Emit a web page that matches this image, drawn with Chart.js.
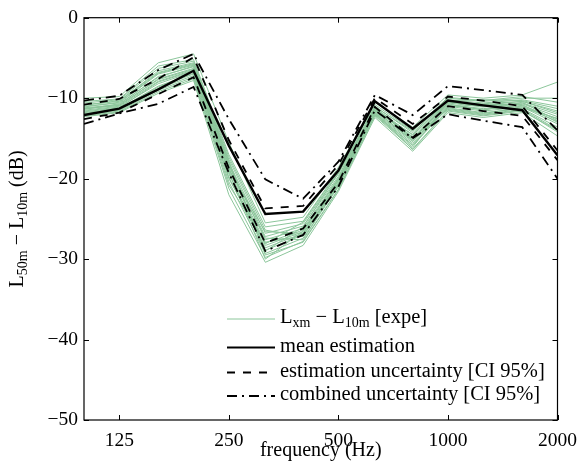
<!DOCTYPE html>
<html>
<head>
<meta charset="utf-8">
<script src="https://cdn.jsdelivr.net/npm/chart.js@4/dist/chart.umd.min.js"></script>
<style>
  html, body { margin: 0; padding: 0; background: #fff; }
  canvas { display: block; }
</style>
</head>
<body>
<canvas id="chart" width="586" height="471"></canvas>
<script>
// third-octave bands (Hz)
const freqs = [100, 125, 160, 200, 250, 315, 400, 500, 630, 800, 1000, 1250, 1600, 2000];
const xTicks = [125, 250, 500, 1000, 2000];
const yTicks = [0, -10, -20, -30, -40, -50];

// model curves (dB)
const meanEst = [-12.1, -11.3, -8.9, -6.6, -15.9, -24.4, -24.1, -19.0, -10.4, -13.8, -10.3, -10.9, -11.5, -17.1];
const estUpper = [-10.8, -10.1, -7.6, -4.9, -15.2, -23.7, -23.4, -18.3, -10.0, -13.2, -9.8, -10.3, -11.0, -16.5];
const estLower = [-12.6, -11.8, -9.5, -7.4, -18.7, -28.0, -26.2, -20.5, -11.1, -14.9, -11.0, -11.6, -12.2, -17.7];
const combUpper = [-10.3, -9.7, -6.5, -4.5, -12.6, -20.1, -22.5, -17.9, -9.6, -12.1, -8.5, -9.0, -9.6, -14.0];
const combLower = [-13.2, -11.9, -10.7, -8.6, -19.3, -29.0, -27.0, -21.0, -11.5, -15.0, -12.0, -12.8, -13.6, -20.0];

// measured curves Lxm - L10m
const expe = [
  [-10.0, -9.8, -5.6, -4.5, -15.5, -25.5, -24.8, -18.6, -10.5, -13.6, -9.6, -10.0, -9.6, -8.0],
  [-10.4, -10.1, -6.0, -5.2, -17.0, -26.0, -25.3, -19.0, -10.8, -14.0, -9.9, -10.3, -9.8, -10.5],
  [-10.8, -10.4, -6.6, -5.6, -17.6, -26.8, -25.6, -19.4, -11.0, -14.3, -10.2, -10.6, -10.2, -11.0],
  [-11.0, -10.6, -7.0, -5.9, -18.0, -27.2, -25.9, -19.7, -11.2, -14.6, -10.4, -10.9, -10.4, -11.6],
  [-11.2, -10.8, -7.3, -6.1, -18.3, -27.6, -26.2, -19.9, -11.3, -14.8, -10.5, -11.0, -10.6, -12.0],
  [-11.3, -10.9, -7.6, -6.3, -18.7, -28.0, -26.4, -20.1, -11.4, -15.0, -10.6, -11.1, -10.7, -12.3],
  [-11.5, -11.0, -7.9, -6.5, -19.0, -28.3, -26.6, -20.3, -11.6, -15.2, -10.8, -11.3, -10.9, -12.6],
  [-11.6, -11.1, -8.2, -6.7, -19.4, -28.6, -26.8, -20.5, -11.7, -15.4, -10.9, -11.4, -11.0, -12.9],
  [-11.8, -11.3, -8.5, -6.9, -19.8, -28.9, -27.0, -20.7, -11.8, -15.6, -11.0, -11.6, -11.1, -13.2],
  [-12.0, -11.5, -8.8, -7.2, -20.4, -29.3, -27.4, -21.0, -12.0, -15.9, -11.2, -11.8, -11.3, -13.6],
  [-12.2, -11.7, -9.2, -7.6, -21.2, -29.8, -27.8, -21.3, -12.2, -16.3, -11.5, -12.1, -11.5, -14.2],
  [-12.3, -11.8, -9.4, -7.8, -22.0, -30.4, -28.3, -21.6, -12.4, -16.6, -11.8, -12.4, -11.8, -14.7],
  [-10.6, -10.2, -6.3, -5.4, -17.3, -26.4, -27.2, -20.2, -11.1, -14.1, -10.0, -10.4, -10.0, -10.0],
  [-11.1, -10.5, -6.9, -5.8, -18.1, -29.0, -26.0, -19.3, -11.5, -14.5, -10.3, -10.2, -10.3, -11.3],
  [-11.4, -10.7, -7.4, -6.0, -18.5, -27.4, -27.6, -20.8, -11.2, -15.1, -10.7, -11.5, -10.5, -12.8],
  [-11.7, -11.2, -8.0, -6.6, -19.2, -30.0, -26.5, -20.0, -11.9, -15.8, -11.1, -10.8, -10.8, -13.0],
  [-11.9, -11.4, -8.6, -7.0, -20.0, -28.1, -25.4, -19.2, -11.5, -15.3, -11.3, -11.9, -11.2, -12.5],
  [-10.9, -10.3, -6.8, -5.7, -17.8, -29.5, -27.9, -21.4, -12.1, -16.1, -10.5, -10.7, -10.4, -11.8],
  [-11.3, -10.9, -7.7, -6.4, -18.9, -26.6, -26.8, -20.6, -11.3, -14.9, -11.4, -12.0, -11.4, -13.9],
  [-12.1, -11.6, -9.0, -7.4, -20.8, -27.9, -27.1, -20.9, -11.8, -16.4, -11.6, -12.2, -11.6, -14.0]
];

const GREEN = 'rgb(140,198,155)';
const SERIF = '"Liberation Serif", "Times New Roman", serif';
const DASH = [8, 8];
const DASHDOT = [10, 5, 2, 5];

function pts(arr){ return freqs.map((f, i) => ({ x: f, y: arr[i] })); }
function minus(v){ return v < 0 ? '\u2212' + Math.abs(v) : String(v); }

const datasets = [];
expe.forEach(row => {
  datasets.push({ data: pts(row), borderColor: GREEN, borderWidth: 1, order: 5 });
});
datasets.push({ data: pts(combUpper), borderColor: '#000', borderWidth: 1.8, borderDash: DASHDOT, order: 2 });
datasets.push({ data: pts(combLower), borderColor: '#000', borderWidth: 1.8, borderDash: DASHDOT, order: 2 });
datasets.push({ data: pts(estUpper), borderColor: '#000', borderWidth: 1.8, borderDash: DASH, order: 2 });
datasets.push({ data: pts(estLower), borderColor: '#000', borderWidth: 1.8, borderDash: DASH, order: 2 });
datasets.push({ data: pts(meanEst), borderColor: '#000', borderWidth: 2.4, order: 1 });

// text runs with subscripts
function runWidth(ctx, parts, big, small){
  let w = 0;
  parts.forEach(p => { ctx.font = (p.sub ? small : big) + 'px ' + SERIF; w += ctx.measureText(p.t).width; });
  return w;
}
function drawRuns(ctx, parts, x, y, big, small){
  parts.forEach(p => {
    ctx.font = (p.sub ? small : big) + 'px ' + SERIF;
    ctx.fillText(p.t, x, p.sub ? y + 5 : y);
    x += ctx.measureText(p.t).width;
  });
}

const decor = {
  id: 'decor',
  afterDraw(chart){
    const ctx = chart.ctx, a = chart.chartArea;
    const xs = chart.scales.x, ys = chart.scales.y;
    ctx.save();
    ctx.strokeStyle = '#000';
    ctx.lineWidth = 1.2;
    ctx.setLineDash([]);
    ctx.strokeRect(a.left, a.top, a.right - a.left, a.bottom - a.top);
    ctx.lineWidth = 1;
    ctx.beginPath();
    xTicks.forEach(v => {
      const px = Math.round(xs.getPixelForValue(v)) + 0.5;
      ctx.moveTo(px, a.bottom); ctx.lineTo(px, a.bottom - 5);
      ctx.moveTo(px, a.top); ctx.lineTo(px, a.top + 5);
    });
    yTicks.forEach(v => {
      const py = Math.round(ys.getPixelForValue(v)) + 0.5;
      ctx.moveTo(a.left, py); ctx.lineTo(a.left + 5, py);
      ctx.moveTo(a.right, py); ctx.lineTo(a.right - 5, py);
    });
    ctx.stroke();

    // y title
    ctx.fillStyle = '#000';
    ctx.textBaseline = 'middle';
    ctx.textAlign = 'left';
    const yParts = [{ t: 'L' }, { t: '50m', sub: true }, { t: ' \u2212 L' }, { t: '10m', sub: true }, { t: ' (dB)' }];
    const w = runWidth(ctx, yParts, 20, 14);
    ctx.translate(18, (a.top + a.bottom) / 2);
    ctx.rotate(-Math.PI / 2);
    drawRuns(ctx, yParts, -w / 2, 0, 20, 14);
    ctx.restore();

    // x title
    ctx.save();
    ctx.fillStyle = '#000';
    ctx.font = '20px ' + SERIF;
    ctx.textAlign = 'center';
    ctx.textBaseline = 'middle';
    ctx.fillText('frequency (Hz)', (a.left + a.right) / 2, 451);

    // legend
    const lx0 = 227, lx1 = 275, tx = 280;
    const rows = [
      { y: 319, color: GREEN, width: 1, dash: [], parts: [{ t: 'L' }, { t: 'xm', sub: true }, { t: ' \u2212 L' }, { t: '10m', sub: true }, { t: ' [expe]' }] },
      { y: 347.5, color: '#000', width: 2.2, dash: [], parts: [{ t: 'mean estimation' }] },
      { y: 372.5, color: '#000', width: 1.8, dash: DASH, parts: [{ t: 'estimation uncertainty [CI 95%]' }] },
      { y: 396, color: '#000', width: 1.8, dash: DASHDOT, parts: [{ t: 'combined uncertainty [CI 95%]' }] }
    ];
    ctx.textAlign = 'left';
    rows.forEach(r => {
      ctx.strokeStyle = r.color;
      ctx.lineWidth = r.width;
      ctx.setLineDash(r.dash);
      ctx.beginPath();
      ctx.moveTo(lx0, r.y); ctx.lineTo(lx1, r.y);
      ctx.stroke();
      ctx.fillStyle = '#000';
      drawRuns(ctx, r.parts, tx, r.y - 1, 20.5, 14);
    });
    ctx.restore();
  }
};

new Chart(document.getElementById('chart'), {
  type: 'line',
  data: { datasets },
  plugins: [decor],
  options: {
    responsive: false,
    animation: false,
    layout: { padding: { top: 15, right: 22, left: 0, bottom: 0 } },
    elements: { point: { radius: 0 }, line: { tension: 0 } },
    plugins: { legend: { display: false }, tooltip: { enabled: false } },
    scales: {
      x: {
        type: 'logarithmic', min: 100, max: 2000,
        grid: { display: false, drawTicks: false }, border: { display: false },
        afterBuildTicks: s => { s.ticks = xTicks.map(v => ({ value: v })); },
        afterFit: s => { s.height = 51; },
        ticks: { autoSkip: false, maxRotation: 0, padding: 9, color: '#000',
          font: { family: SERIF, size: 19.5 }, callback: v => String(v) }
      },
      y: {
        min: -50, max: 0,
        grid: { display: false, drawTicks: false }, border: { display: false },
        afterBuildTicks: s => { s.ticks = yTicks.map(v => ({ value: v })); },
        afterFit: s => { s.width = 84; },
        ticks: { padding: 6, color: '#000', font: { family: SERIF, size: 19.5 }, callback: v => minus(v) }
      }
    }
  }
});
</script>
</body>
</html>
